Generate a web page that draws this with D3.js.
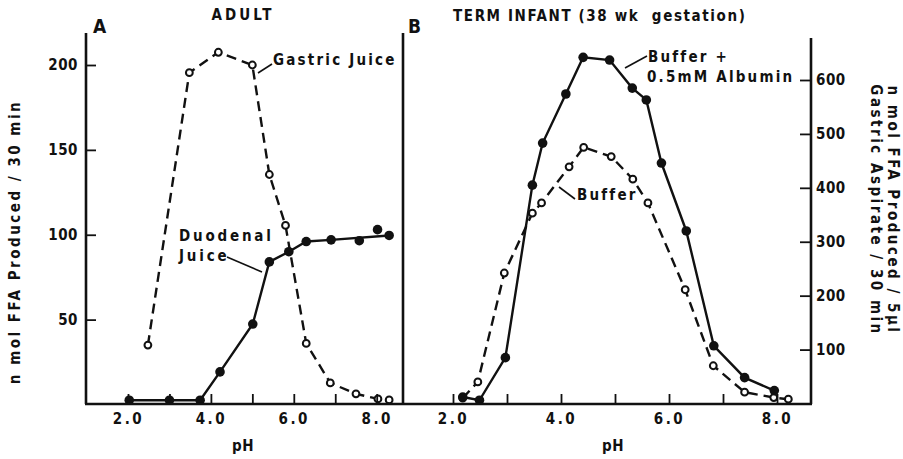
<!DOCTYPE html>
<html>
<head>
<meta charset="utf-8">
<script src="https://cdn.jsdelivr.net/npm/d3@7"></script>
<style>
  body { margin: 0; background: #fff; }
  svg text { font-family: "DejaVu Sans Condensed", "DejaVu Sans", sans-serif; font-weight: bold; fill: #111; }
</style>
</head>
<body>
<div id="wrapper"></div>
<script>
// A: adult
const adultGastricPH = [2.48, 3.48, 4.18, 5.0, 5.41, 5.8, 6.3, 6.88, 7.5, 8.03, 8.3]
const adultGastric   = [35, 195.5, 207.5, 200, 135.5, 105.5, 36, 12.7, 6.3, 3.3, 2.7]
const adultDuoPH     = [2.03, 3.0, 3.74, 4.22, 5.01, 5.41, 5.88, 6.3, 6.9, 7.58, 8.02, 8.3]
const adultDuo       = [2.5, 2.5, 2.5, 19.2, 47.4, 84, 90, 96, 97, 96.5, 103, 99.6]
const adultDuoOnLine = [1, 1, 1, 1, 1, 1, 1, 1, 1, 0, 0, 1]   // scattered points off the drawn line

// B: term infant
const infAlbPH  = [2.18, 2.49, 2.97, 3.47, 3.66, 4.09, 4.41, 4.90, 5.32, 5.58, 5.86, 6.32, 6.83, 7.40, 7.95]
const infAlb    = [12, 6, 85, 405, 483, 574, 642, 637, 585, 563, 446, 320, 107, 48, 24]
const infBufPH  = [2.18, 2.46, 2.95, 3.47, 3.64, 4.15, 4.42, 4.93, 5.33, 5.61, 6.30, 6.82, 7.40, 7.94, 8.21]
const infBuf    = [10, 40, 242, 353, 372, 439, 475, 458, 416, 372, 211, 70, 21, 11, 8]

const phTicks = [2, 3, 4, 5, 6, 7, 8]
const phLabels = [2, 4, 6, 8]
const leftYTicks = [50, 100, 150, 200]
const rightYTicks = [100, 200, 300, 400, 500, 600]

const width = 903, height = 459
const baseY = 404

const svg = d3.select("#wrapper").append("svg")
    .attr("width", width).attr("height", height)

// scales
const xA = d3.scaleLinear().domain([2, 8]).range([128, 376.7])
const yA = d3.scaleLinear().domain([0, 200]).range([404.5, 65])
const xB = d3.scaleLinear().domain([2, 8]).range([453, 777])
const yB = d3.scaleLinear().domain([0, 600]).range([403.5, 80])

const zip = (xs, ys) => xs.map((x, i) => ({x: x, y: ys[i], i: i}))

function drawSeries(xs, ys, x, y, dashed, filled, onLine) {
    const data = zip(xs, ys)
    const lineData = onLine ? data.filter(d => onLine[d.i]) : data
    const line = d3.line().x(d => x(d.x)).y(d => y(d.y))
    svg.append("path")
        .attr("d", line(lineData))
        .attr("fill", "none")
        .attr("stroke", "#111")
        .attr("stroke-width", 2.4)
        .attr("stroke-dasharray", dashed ? "10,6" : null)
    svg.append("g").selectAll("circle").data(data).join("circle")
        .attr("cx", d => x(d.x))
        .attr("cy", d => y(d.y))
        .attr("r", filled ? 4.8 : 3.4)
        .attr("fill", filled ? "#111" : "#fff")
        .attr("stroke", "#111")
        .attr("stroke-width", filled ? 0 : 2)
}

drawSeries(adultGastricPH, adultGastric, xA, yA, true, false)
drawSeries(adultDuoPH, adultDuo, xA, yA, false, true, adultDuoOnLine)
drawSeries(infBufPH, infBuf, xB, yB, true, false)
drawSeries(infAlbPH, infAlb, xB, yB, false, true)

// frame
const frame = [
    [85, baseY, 812, baseY],
    [86, 33, 86, baseY],
    [403, 33, 403, baseY],
    [811, 38, 811, baseY]
]
svg.append("g").selectAll("line").data(frame).join("line")
    .attr("x1", d => d[0]).attr("y1", d => d[1])
    .attr("x2", d => d[2]).attr("y2", d => d[3])
    .attr("stroke", "#111").attr("stroke-width", 2.6)

// axes
function xAxes(x) {
    svg.append("g").attr("transform", `translate(0,${baseY})`)
        .call(d3.axisBottom(x).tickValues(phTicks).tickSize(-10).tickFormat(""))
        .call(g => g.select(".domain").remove())
        .call(g => g.selectAll("line").attr("stroke", "#111").attr("stroke-width", 1.8))
    svg.append("g").attr("transform", `translate(0,${baseY})`)
        .call(d3.axisBottom(x).tickValues(phLabels).tickSize(0).tickPadding(9).tickFormat(d3.format(".1f")))
        .call(g => g.select(".domain").remove())
        .call(g => g.selectAll("text").attr("font-size", 15).style("letter-spacing", "2.5px"))
}
xAxes(xA)
xAxes(xB)

svg.append("g").attr("transform", "translate(86,0)")
    .call(d3.axisLeft(yA).tickValues(leftYTicks).tickSize(-10).tickPadding(8))
    .call(g => g.select(".domain").remove())
    .call(g => g.selectAll("line").attr("stroke", "#111").attr("stroke-width", 1.8))
    .call(g => g.selectAll("text").attr("font-size", 15).style("letter-spacing", "0.5px"))

svg.append("g").attr("transform", "translate(811,0)")
    .call(d3.axisRight(yB).tickValues(rightYTicks).tickSize(-11).tickPadding(5))
    .call(g => g.select(".domain").remove())
    .call(g => g.selectAll("line").attr("stroke", "#111").attr("stroke-width", 1.8))
    .call(g => g.selectAll("text").attr("font-size", 15).style("letter-spacing", "0.5px"))

// texts
function label(x, y, txt, size, spacing, anchor) {
    return svg.append("text").attr("x", x).attr("y", y)
        .attr("font-size", size)
        .attr("text-anchor", anchor || "start")
        .style("letter-spacing", spacing + "px")
        .text(txt)
}
label(243, 20, "ADULT", 15, 3, "middle")
label(453, 21, "TERM INFANT (38 wk  gestation)", 15, 1.6).style("white-space", "pre")
label(93, 33, "A", 19, 0).attr("font-family", "Liberation Sans")
label(408, 33, "B", 19, 0).attr("font-family", "Liberation Sans")
label(243, 451, "pH", 15, 0.5, "middle")
label(613, 451, "pH", 15, 0.5, "middle")

label(273, 65, "Gastric Juice", 15, 2.2)
label(179, 241, "Duodenal", 15, 2.8)
label(179, 261, "Juice", 15, 2.8)
label(648, 62, "Buffer +", 15, 2.2)
label(647, 82, "0.5mM Albumin", 15, 2.2)
label(577, 200, "Buffer", 15, 2.2)

const leaders = [
    [258, 73, 272, 64],
    [227, 257, 262, 272],
    [625, 68, 647, 56],
    [559, 187, 575, 199]
]
svg.append("g").selectAll("line").data(leaders).join("line")
    .attr("x1", d => d[0]).attr("y1", d => d[1])
    .attr("x2", d => d[2]).attr("y2", d => d[3])
    .attr("stroke", "#111").attr("stroke-width", 1.6)

svg.append("text")
    .attr("transform", "translate(20,242) rotate(-90)")
    .attr("text-anchor", "middle").attr("font-size", 15)
    .style("letter-spacing", "2.5px")
    .text("n mol FFA Produced / 30 min")

svg.append("text")
    .attr("transform", "translate(888,210) rotate(90)")
    .attr("text-anchor", "middle").attr("font-size", 15)
    .style("letter-spacing", "2.5px")
    .text("n mol FFA Produced / 5\u00b5l")
svg.append("text")
    .attr("transform", "translate(871,210) rotate(90)")
    .attr("text-anchor", "middle").attr("font-size", 15)
    .style("letter-spacing", "2.5px")
    .text("Gastric Aspirate / 30 min")
</script>
</body>
</html>
